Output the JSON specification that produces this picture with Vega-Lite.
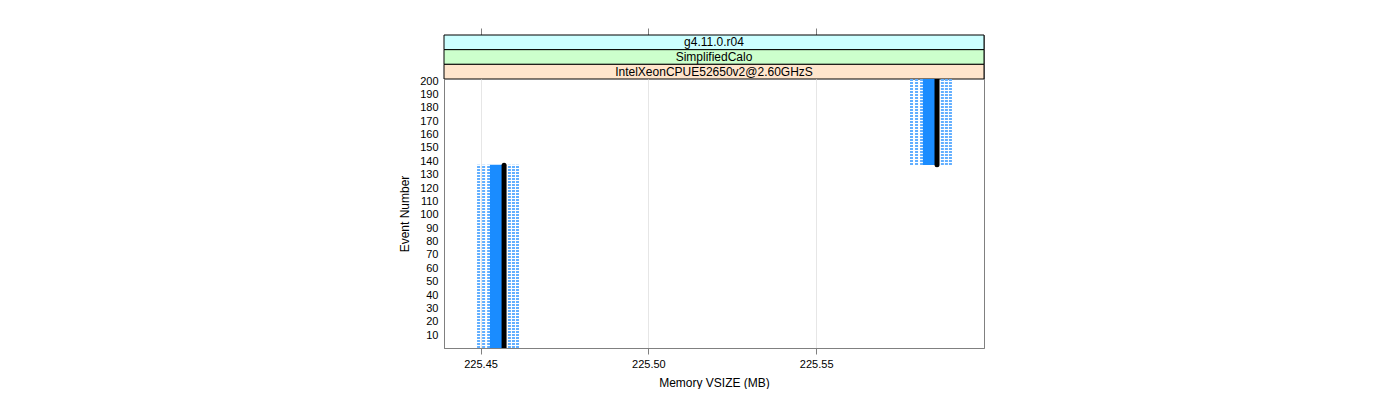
{
  "$schema": "https://vega.github.io/schema/vega-lite/v6.json",
  "padding": {"left": 398, "top": 27, "right": 0, "bottom": 0},
  "background": "white",
  "bounds": "flush",
  "config": {
    "view": {"stroke": "#808080", "strokeWidth": 1},
    "axis": {"labelFont": "Liberation Sans", "titleFont": "Liberation Sans", "labelFontSize": 11, "titleFontSize": 12, "titleFontWeight": "normal", "labelColor": "black", "titleColor": "black", "tickColor": "#808080", "domainColor": "#808080"},
    "axisY": {"labelOverlap": false, "labelSeparation": 0}
  },
  "datasets": {
    "strips": [
      {"label": "g4.11.0.r04"},
      {"label": "SimplifiedCalo"},
      {"label": "IntelXeonCPUE52650v2@2.60GHzS"}
    ],
    "cols": [
      {"cluster": "A", "x": 225.4494, "ylo": 0.5, "yhi": 137.5},
      {"cluster": "A", "x": 225.4509, "ylo": 0.5, "yhi": 137.5},
      {"cluster": "A", "x": 225.4524, "ylo": 0.5, "yhi": 137.5},
      {"cluster": "A", "x": 225.4586, "ylo": 0.5, "yhi": 137.5},
      {"cluster": "A", "x": 225.4598, "ylo": 0.5, "yhi": 137.5},
      {"cluster": "A", "x": 225.4610, "ylo": 0.5, "yhi": 137.5},
      {"cluster": "B", "x": 225.5784, "ylo": 137.2, "yhi": 201.5},
      {"cluster": "B", "x": 225.5799, "ylo": 137.2, "yhi": 201.5},
      {"cluster": "B", "x": 225.5814, "ylo": 137.2, "yhi": 201.5},
      {"cluster": "B", "x": 225.5876, "ylo": 137.2, "yhi": 201.5},
      {"cluster": "B", "x": 225.5888, "ylo": 137.2, "yhi": 201.5},
      {"cluster": "B", "x": 225.5900, "ylo": 137.2, "yhi": 201.5}
    ],
    "bands": [
      {"cluster": "A", "xlo": 225.4528, "xhi": 225.4564, "ylo": 0.5, "yhi": 137.5},
      {"cluster": "B", "xlo": 225.5818, "xhi": 225.5854, "ylo": 137.2, "yhi": 201.5}
    ],
    "lines": [
      {"cluster": "A", "x": 225.4570, "ylo": 0.5, "yhi": 137},
      {"cluster": "B", "x": 225.5860, "ylo": 137.5, "yhi": 201.5}
    ]
  },
  "spacing": 0,
  "vconcat": [
    {
      "width": 540,
      "height": 44,
      "layer": [
        {
          "data": {"name": "strips"},
          "mark": {"type": "rect", "stroke": "black", "strokeWidth": 1},
          "encoding": {
            "y": {"field": "label", "type": "nominal", "sort": ["g4.11.0.r04", "SimplifiedCalo", "IntelXeonCPUE52650v2@2.60GHzS"], "scale": {"paddingInner": 0, "paddingOuter": 0}, "axis": null},
            "fill": {"field": "label", "type": "nominal", "scale": {"domain": ["g4.11.0.r04", "SimplifiedCalo", "IntelXeonCPUE52650v2@2.60GHzS"], "range": ["#CCFFFF", "#CCFFCC", "#FFE5CC"]}, "legend": null}
          }
        },
        {
          "data": {"name": "strips"},
          "mark": {"type": "text", "fontSize": 12, "font": "Liberation Sans", "color": "black"},
          "encoding": {
            "y": {"field": "label", "type": "nominal", "sort": ["g4.11.0.r04", "SimplifiedCalo", "IntelXeonCPUE52650v2@2.60GHzS"], "axis": null},
            "text": {"field": "label", "type": "nominal"}
          }
        },
        {
          "data": {"values": [{"t": 225.45}, {"t": 225.5}, {"t": 225.55}]},
          "mark": {"type": "rule", "opacity": 0},
          "encoding": {
            "x": {"field": "t", "type": "quantitative", "scale": {"domain": [225.4391, 225.6], "nice": false, "zero": false}, "axis": {"orient": "top", "labels": false, "domain": false, "grid": false, "tickSize": 7, "values": [225.45, 225.5, 225.55], "title": null}}
          }
        }
      ]
    },
    {
      "width": 540,
      "height": 269,
      "layer": [
        {
          "data": {"name": "cols"},
          "mark": {"type": "rule", "strokeWidth": 3, "strokeDash": [2, 1], "color": "#62afff"},
          "encoding": {
            "x": {"field": "x", "type": "quantitative", "scale": {"domain": [225.4391, 225.6], "nice": false, "zero": false},
              "axis": {"values": [225.45, 225.5, 225.55], "format": ".2f", "grid": true, "gridColor": "#e6e6e6", "tickSize": 6, "labelPadding": 4, "titlePadding": 8, "title": "Memory VSIZE (MB)"}},
            "y": {"field": "ylo", "type": "quantitative", "scale": {"domain": [0.5, 201.5], "nice": false, "zero": false},
              "axis": {"values": [10, 20, 30, 40, 50, 60, 70, 80, 90, 100, 110, 120, 130, 140, 150, 160, 170, 180, 190, 200], "labelOverlap": false, "labelFontSize": 11, "ticks": false, "grid": false, "labelPadding": 6, "titlePadding": 8, "title": "Event Number"}},
            "y2": {"field": "yhi"}
          }
        },
        {
          "data": {"name": "bands"},
          "mark": {"type": "rect", "color": "#1a8cff"},
          "encoding": {
            "x": {"field": "xlo", "type": "quantitative"},
            "x2": {"field": "xhi"},
            "y": {"field": "ylo", "type": "quantitative", "axis": {"values": [10, 20, 30, 40, 50, 60, 70, 80, 90, 100, 110, 120, 130, 140, 150, 160, 170, 180, 190, 200], "labelOverlap": false}},
            "y2": {"field": "yhi"}
          }
        },
        {
          "data": {"name": "lines"},
          "mark": {"type": "rule", "strokeWidth": 5, "strokeCap": "round", "color": "black", "clip": true},
          "encoding": {
            "x": {"field": "x", "type": "quantitative"},
            "y": {"field": "ylo", "type": "quantitative", "axis": {"values": [10, 20, 30, 40, 50, 60, 70, 80, 90, 100, 110, 120, 130, 140, 150, 160, 170, 180, 190, 200], "labelOverlap": false}},
            "y2": {"field": "yhi"}
          }
        }
      ]
    }
  ]
}
